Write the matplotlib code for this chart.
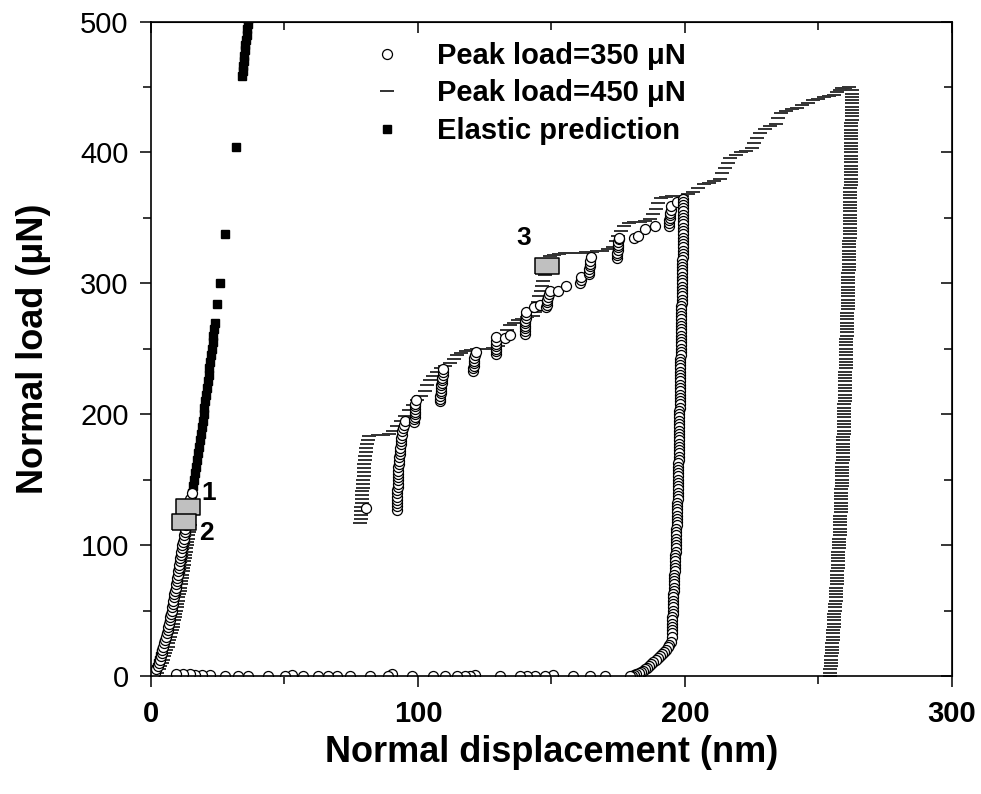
import matplotlib.pyplot as plt
from matplotlib.ticker import MultipleLocator

plt.rcParams['font.family'] = 'Liberation Sans'

# --- Elastic prediction (black squares) ---
elastic_x = [0.0, 0.6, 0.9, 1.3, 1.7, 2.1, 2.7, 3.1, 3.5, 3.9, 4.2, 4.9, 5.6, 6.2, 6.7,
             7.3, 7.8, 8.3, 8.8, 9.3, 9.8, 10.2, 10.7, 11.1, 11.6, 12.0, 12.4, 12.8,
             13.2, 13.6, 14.0, 14.4, 14.8, 15.1, 15.5, 15.9, 16.3, 16.6, 17.0, 17.3,
             17.7, 18.0, 18.4, 18.7, 19.0, 19.4, 19.7, 20.0, 20.3, 20.7, 21.0, 21.3,
             21.6, 21.9, 22.2, 22.5, 22.8, 23.1, 23.4, 23.7, 24.0,
             24.8, 25.8, 27.9, 31.7,
             34.2, 34.4, 34.6, 34.8, 35.0, 35.2, 35.4, 35.6, 35.8, 36.0, 36.2, 36.4]
elastic_y = [0, 1, 2, 3.5, 5, 7, 10, 12.5, 15, 17.5, 20, 25, 30, 35, 40,
             45, 50, 55, 60, 65, 70, 75, 80, 85, 90, 95, 100, 105,
             110, 115, 120, 125, 130, 135, 140, 145, 150, 155, 160, 165,
             170, 175, 180, 185, 190, 195, 200, 205, 210, 215, 220, 225,
             230, 235, 240, 245, 250, 255, 260, 265, 270,
             284.5, 300, 338, 404,
             458, 462, 466, 470, 474, 478, 482, 486, 490, 494, 498, 502]

# --- Peak load = 450 uN (dashes) ---
p450_load_x = [0.6, 2.1, 2.9, 3.5, 4.1, 4.6, 5.0, 5.4, 5.8, 6.2,
               6.5, 6.9, 7.2, 7.5, 7.8, 8.1, 8.4, 8.6, 8.9, 9.1,
               9.4, 9.6, 9.9, 10.1, 10.3, 10.5, 10.7, 10.9, 11.1, 11.3,
               11.5, 11.7, 11.9, 12.1, 12.3, 12.5, 12.7, 12.9, 13.1, 13.3,
               13.4, 13.6, 13.8, 14.0, 14.1, 14.3, 14.5]
p450_load_y = [0, 2.5, 5, 7.5, 10, 12.5, 15, 17.5, 20, 22.5,
               25, 27.5, 30, 32.5, 35, 37.5, 40, 42.5, 45, 47.5,
               50, 52.5, 55, 57.5, 60, 62.5, 65, 67.5, 70, 72.5,
               75, 77.5, 80, 82.5, 85, 87.5, 90, 92.5, 95, 97.5,
               100, 102.5, 105, 107.5, 110, 112.5, 115]
p450_pop_x = [78.4, 78.5, 78.6, 78.7, 78.8, 78.9, 79.0, 79.1, 79.2, 79.3, 79.4, 79.5,
              79.6, 79.7, 79.8, 79.9, 80.0, 80.2, 80.4, 80.6, 80.9, 81.3, 81.8]
p450_pop_y = [117, 120, 123, 126, 129, 132, 135, 138, 141, 144, 147, 150,
              153, 156, 159, 162, 165, 168, 171, 174, 177, 180, 183]
p450_step_x = [85, 87, 89, 90.5, 92, 93.5, 95, 96.5, 98, 99.5, 101, 102.5, 103.5, 104.5,
               105.5, 107, 108.5, 110, 112, 113.5, 114.5, 116, 118, 120, 122, 124, 126,
               128, 130, 131.5, 132.5, 133.5, 134.5, 136, 137.5, 139, 141, 143, 144,
               144.5, 145, 145.5, 146, 146.5, 147, 147.5, 148, 148.5, 149, 149.5, 151,
               153, 155, 157, 159, 161, 163, 165, 167, 169, 171, 173, 174, 175, 176,
               177, 179, 181, 183, 185, 187, 188, 189, 190, 191, 193, 195, 197, 199,
               201, 203, 205, 207, 209, 211, 213, 214, 215, 216, 217, 219, 221, 223,
               225, 226, 227, 228, 230, 232, 234, 235, 236, 238, 240, 242, 244, 246,
               248, 250, 252, 254, 256, 257, 258, 259, 260, 261.5]
p450_step_y = [184, 184.5, 185, 187, 191, 195, 199, 203, 207, 211, 214, 218, 222, 226,
               229, 232, 235, 237, 239, 242, 245, 247, 248, 249, 249.5, 250, 250,
               250.5, 252, 256, 260, 264, 268, 270, 272, 273, 274, 275, 278,
               282, 286, 290, 294, 298, 302, 306, 310, 314, 318, 321, 322,
               322.5, 323, 323, 323.5, 323.5, 324, 324, 324.5, 325, 326, 328, 332, 336, 340,
               344, 346, 346.5, 347, 347.5, 349, 353, 357, 361, 365, 366, 366.5, 367, 367,
               368, 370, 373, 376, 377, 378, 380, 384, 388, 392, 396, 398, 400, 401,
               403, 407, 411, 415, 418, 420, 422, 426, 430, 432, 433, 434, 436, 438,
               440, 441, 442, 443, 444, 446, 448, 449, 449.5, 450]
p450_unl_x = [262.7, 262.6, 262.6, 262.5, 262.5, 262.5, 262.4, 262.4, 262.4, 262.4,
              262.3, 262.3, 262.3, 262.3, 262.2, 262.2, 262.2, 262.2, 262.1, 262.1,
              262.1, 262.1, 262.1, 262.1, 262.0, 262.0, 262.0, 262.0, 262.0, 262.0,
              261.9, 261.9, 261.9, 261.9, 261.9, 261.9, 261.9, 261.9, 261.9, 261.9,
              261.8, 261.8, 261.7, 261.7, 261.7, 261.7, 261.6, 261.6, 261.5, 261.5,
              261.5, 261.5, 261.4, 261.4, 261.3, 261.3, 261.2, 261.2, 261.2, 261.2,
              261.1, 261.1, 261.0, 261.0, 261.0, 261.0, 260.9, 260.9, 260.8, 260.8,
              260.8, 260.8, 260.7, 260.7, 260.6, 260.6, 260.5, 260.5, 260.4, 260.4,
              260.4, 260.4, 260.3, 260.3, 260.2, 260.2, 260.1, 260.1, 260.0, 260.0,
              259.9, 259.9, 259.9, 259.9, 259.8, 259.8, 259.7, 259.7, 259.6, 259.6,
              259.6, 259.6, 259.5, 259.5, 259.4, 259.4, 259.3, 259.3, 259.3, 259.3,
              259.2, 259.2, 259.1, 259.1, 259.0, 259.0, 258.9, 258.9, 258.8, 258.8,
              258.7, 258.7, 258.6, 258.6, 258.5, 258.5, 258.4, 258.4, 258.3, 258.3,
              258.2, 258.2, 258.1, 258.1, 258.0, 258.0, 257.9, 257.8, 257.8, 257.7,
              257.6, 257.5, 257.5, 257.4, 257.3, 257.2, 257.2, 257.1, 257.0, 256.9,
              256.9, 256.8, 256.7, 256.6, 256.5, 256.4, 256.4, 256.3, 256.2, 256.1,
              256.0, 255.9, 255.9, 255.8, 255.7, 255.6, 255.5, 255.4, 255.3, 255.2,
              255.1, 255.0, 254.9, 254.8, 254.8, 254.7, 254.6, 254.5, 254.5, 254.4]
p450_unl_y = [447.5, 445, 442.5, 440, 437.5, 435, 432.5, 430, 427.5, 425,
              422.5, 420, 417.5, 415, 412.5, 410, 407.5, 405, 402.5, 400,
              397.5, 395, 392.5, 390, 387.5, 385, 382.5, 380, 377.5, 375,
              372.5, 370, 367.5, 365, 362.5, 360, 357.5, 355, 352.5, 350,
              347.5, 345, 342.5, 340, 337.5, 335, 332.5, 330, 327.5, 325,
              322.5, 320, 317.5, 315, 312.5, 310, 307.5, 305, 302.5, 300,
              297.5, 295, 292.5, 290, 287.5, 285, 282.5, 280, 277.5, 275,
              272.5, 270, 267.5, 265, 262.5, 260, 257.5, 255, 252.5, 250,
              247.5, 245, 242.5, 240, 237.5, 235, 232.5, 230, 227.5, 225,
              222.5, 220, 217.5, 215, 212.5, 210, 207.5, 205, 202.5, 200,
              197.5, 195, 192.5, 190, 187.5, 185, 182.5, 180, 177.5, 175,
              172.5, 170, 167.5, 165, 162.5, 160, 157.5, 155, 152.5, 150,
              147.5, 145, 142.5, 140, 137.5, 135, 132.5, 130, 127.5, 125,
              122.5, 120, 117.5, 115, 112.5, 110, 107.5, 105, 102.5, 100,
              97.5, 95, 92.5, 90, 87.5, 85, 82.5, 80, 77.5, 75,
              72.5, 70, 67.5, 65, 62.5, 60, 57.5, 55, 52.5, 50,
              47.5, 45, 42.5, 40, 37.5, 35, 32.5, 30, 27.5, 25,
              22.5, 20, 17.5, 15, 12.5, 10, 7.5, 5, 2.5, 0]

# --- Peak load = 350 uN (open circles) ---
p350_load_x = [0.5, 1.4, 2.0, 2.5, 2.9, 3.3, 3.6, 4.0, 4.3, 4.65,
               5.0, 5.3, 5.6, 5.9, 6.2, 6.45, 6.7, 6.95, 7.2, 7.45,
               7.7, 7.9, 8.1, 8.35, 8.6, 8.8, 9.0, 9.2, 9.4, 9.6,
               9.8, 10.0, 10.2, 10.4, 10.6, 10.8, 11.0, 11.2, 11.4, 11.6,
               11.8, 12.0, 12.2, 12.4, 12.6, 12.8, 13.0, 13.2, 13.4, 13.6,
               13.8, 14.05, 14.3, 14.5, 14.7, 15.2, 80.7]
p350_load_y = [0, 2.5, 5, 7.5, 10, 12.5, 15, 17.5, 20, 22.5,
               25, 27.5, 30, 32.5, 35, 37.5, 40, 42.5, 45, 47.5,
               50, 52.5, 55, 57.5, 60, 62.5, 65, 67.5, 70, 72.5,
               75, 77.5, 80, 82.5, 85, 87.5, 90, 92.5, 95, 97.5,
               100, 102.5, 105, 107.5, 110, 112.5, 115, 117.5, 120, 122.5,
               125, 127.5, 130, 132.5, 135, 139.8, 128.4]
p350_step_x = [92.0, 92.05, 92.1, 92.15, 92.2, 92.25, 92.3, 92.35, 92.4, 92.45,
               92.5, 92.55, 92.6, 92.7, 92.8, 92.9, 93.0, 93.1, 93.2, 93.35,
               93.5, 93.65, 93.8, 94.0, 94.2, 94.4, 94.7, 95.0,
               98.6, 98.6, 98.7, 98.7, 98.8, 98.8, 98.9, 99.0, 99.4,
               108.2, 108.3, 108.4, 108.5, 108.6, 108.7, 108.8, 108.9, 109.0,
               109.1, 109.2, 109.3, 109.4,
               120.6, 120.7, 120.8, 120.9, 121.0, 121.1, 121.3, 121.6,
               129.1, 129.1, 129.2, 129.2, 129.3, 129.3, 129.4, 132.5, 134.4,
               140.0, 140.0, 140.1, 140.1, 140.2, 140.2, 140.3, 140.4, 140.6,
               143.3, 145.8,
               148.1, 148.2, 148.3, 148.4, 148.6, 148.9, 149.3, 152.4, 155.3,
               160.5, 161.0, 161.2, 164.0, 164.1, 164.2, 164.3, 164.5, 164.6, 164.9,
               174.5, 174.6, 174.7, 174.8, 174.9, 175.0, 175.1, 175.2, 175.3,
               181.0, 182.4, 185.2, 188.6,
               194.0, 194.1, 194.2, 194.3, 194.4, 194.5, 194.6, 194.9, 197.0, 199.2]
p350_step_y = [127, 129.5, 132, 134.5, 137, 139.5, 142, 144.5, 147, 149.5,
               152, 154.5, 157, 159.5, 162, 164.5, 167, 169.5, 172, 174.5,
               177, 179.5, 182, 184.5, 187, 189.5, 192, 194.5,
               194, 196, 198, 200, 202, 204, 206, 208, 211,
               210, 212, 214, 216, 218, 220, 222, 224, 226,
               228, 230, 232, 234.7,
               233, 235, 237, 239, 241, 243, 245, 247.4,
               246, 248, 250, 252, 254, 256, 258.8, 258, 260.6,
               261.4, 263.5, 265.5, 267.5, 269.5, 271.5, 273.5, 275.5, 278.4,
               281.7, 283.7,
               281.7, 283.5, 285.5, 287.5, 289.5, 291.5, 293.9, 294.4, 298.2,
               300, 302.5, 305, 307, 309, 311, 313, 315, 317, 319.8,
               319.3, 321.5, 323.5, 325.5, 327.5, 329.5, 331.5, 333.5, 335,
               335, 336.4, 341.5, 344,
               344, 346, 348, 350, 352, 354, 356, 359.3, 362, 364.4]
p350_unl_x = [199.3, 199.3, 199.3, 199.3, 199.3, 199.3, 199.2, 199.2, 199.2, 199.2,
              199.2, 199.2, 199.1, 199.1, 199.1, 199.1, 199.1, 199.1, 199.0, 199.0,
              199.0, 199.0, 199.0, 199.0, 198.9, 198.9, 198.9, 198.9, 198.8, 198.8,
              198.8, 198.8, 198.7, 198.7, 198.7, 198.7, 198.6, 198.6, 198.6, 198.6,
              198.5, 198.5, 198.5, 198.5, 198.4, 198.4, 198.4, 198.4, 198.3, 198.3,
              198.3, 198.3, 198.2, 198.2, 198.2, 198.2, 198.1, 198.1, 198.1, 198.1,
              198.0, 198.0, 198.0, 198.0, 197.9, 197.9, 197.9, 197.9, 197.8, 197.8,
              197.8, 197.8, 197.7, 197.7, 197.7, 197.7, 197.6, 197.6, 197.6, 197.6,
              197.5, 197.5, 197.5, 197.5, 197.4, 197.4, 197.4, 197.4, 197.3, 197.3,
              197.3, 197.3, 197.2, 197.2, 197.1, 197.1, 197.0, 197.0, 196.9, 196.9,
              196.8, 196.8, 196.7, 196.7, 196.6, 196.6, 196.5, 196.5, 196.4, 196.4,
              196.3, 196.3, 196.2, 196.1, 196.0, 196.0, 195.9, 195.9, 195.8, 195.8,
              195.7, 195.6, 195.6, 195.5, 195.5, 195.4, 195.4, 195.3, 195.3, 195.2,
              195.2, 195.1, 195.1, 195.0,
              194.6, 194.2, 193.6, 192.9, 192.2, 191.4, 190.6, 189.8, 189.0, 188.2,
              187.4, 186.6, 185.8, 185.0, 184.2, 183.4, 182.6, 181.8, 181.0, 180.2]
p350_unl_y = [362.5, 360, 357.5, 355, 352.5, 350, 347.5, 345, 342.5, 340,
              337.5, 335, 332.5, 330, 327.5, 325, 322.5, 320, 317.5, 315,
              312.5, 310, 307.5, 305, 302.5, 300, 297.5, 295, 292.5, 290,
              287.5, 285, 282.5, 280, 277.5, 275, 272.5, 270, 267.5, 265,
              262.5, 260, 257.5, 255, 252.5, 250, 247.5, 245, 242.5, 240,
              237.5, 235, 232.5, 230, 227.5, 225, 222.5, 220, 217.5, 215,
              212.5, 210, 207.5, 205, 202.5, 200, 197.5, 195, 192.5, 190,
              187.5, 185, 182.5, 180, 177.5, 175, 172.5, 170, 167.5, 165,
              162.5, 160, 157.5, 155, 152.5, 150, 147.5, 145, 142.5, 140,
              137.5, 135, 132.5, 130, 127.5, 125, 122.5, 120, 117.5, 115,
              112.5, 110, 107.5, 105, 102.5, 100, 97.5, 95, 92.5, 90,
              87.5, 85, 82.5, 80, 77.5, 75, 72.5, 70, 67.5, 65,
              62.5, 60, 57.5, 55, 52.5, 50, 47.5, 45, 42.5, 40,
              37.5, 35, 32.5, 30,
              26, 24, 22, 20, 18.5, 17, 15.5, 14, 12.5, 11,
              9.5, 8, 6.5, 5, 4, 3, 2, 1.2, 0.6, 0.2]
# retraction along the baseline
p350_ret_x = [179.3, 169.9, 164.3, 158.0, 150.6, 147.5, 143.7, 140.7, 138.2, 130.7,
              121.4, 119.5, 117.6, 114.5, 110.1, 105.7, 97.6, 90.1, 88.9, 82.0,
              74.5, 69.6, 66.4, 62.7, 57.1, 52.7, 50.2, 43.9, 36.4, 32.6, 27.7,
              22.1, 19.0, 16.5, 14.6, 12.1, 9.4]
p350_ret_y = [0, 0, 0, 0, 0.5, 0.2, 0, 0.3, 0, 0,
              0.6, 0.2, 0, 0.2, 0, 0, 0, 1.2, 0, 0,
              0, 0, 0, 0.2, 0, 0.6, 0, 0, 0.2, 0.2, 0,
              0.4, 0.6, 0.8, 1.2, 1.5, 1.8]

# marked points 1, 2, 3
mark_x = [13.7, 12.4, 148.3]
mark_y = [129.1, 117.3, 313.5]
mark_labels = ['1', '2', '3']
label_x = [21.7, 20.6, 139.6]
label_y = [139.6, 109.0, 334.9]

fig = plt.figure(figsize=(9.81, 7.94), dpi=100)
ax = fig.add_axes([0.1539, 0.1486, 0.8165, 0.8243])

h_el, = ax.plot(elastic_x, elastic_y, ls='none', marker='s', ms=6.2,
                color='black', mec='black', label='Elastic prediction')
x450 = p450_load_x + p450_pop_x + p450_step_x + p450_unl_x
y450 = p450_load_y + p450_pop_y + p450_step_y + p450_unl_y
h450, = ax.plot(x450, y450, ls='none', marker='_', ms=10.5, mew=1.4,
                color='#333333', label='Peak load=450 μN')
x350 = p350_load_x + p350_step_x + p350_unl_x + p350_ret_x
y350 = p350_load_y + p350_step_y + p350_unl_y + p350_ret_y
h350, = ax.plot(x350, y350, ls='none', marker='o', ms=7.2, mew=0.9,
                mfc='white', mec='black', label='Peak load=350 μN')

rect = [(-1.5, -1), (1.5, -1), (1.5, 1), (-1.5, 1), (-1.5, -1)]
ax.plot(mark_x, mark_y, ls='none', marker=rect, ms=17.5, mfc='#c0c0c0',
        mec='black', mew=1.1, zorder=5)
for tx, ty, t in zip(label_x, label_y, mark_labels):
    ax.text(tx, ty, t, fontsize=19, fontweight='bold', ha='center', va='center')

ax.set_xlim(0, 300)
ax.set_ylim(0, 500)
ax.xaxis.set_major_locator(MultipleLocator(100))
ax.xaxis.set_minor_locator(MultipleLocator(50))
ax.yaxis.set_major_locator(MultipleLocator(100))
ax.yaxis.set_minor_locator(MultipleLocator(50))
ax.tick_params(which='major', direction='out', length=8, width=1.1, labelsize=21)
ax.tick_params(which='minor', direction='out', length=5.5, width=1.1)
ax.tick_params(axis='x', pad=9)
ax.tick_params(axis='y', pad=8)
for lbl in ax.get_xticklabels():
    lbl.set_fontweight('bold')
for sp in ax.spines.values():
    sp.set_linewidth(1.2)

# top and right ticks point inwards
top = ax.secondary_xaxis('top')
top.xaxis.set_major_locator(MultipleLocator(100))
top.xaxis.set_minor_locator(MultipleLocator(50))
top.tick_params(which='major', direction='in', length=8, width=1.1, labeltop=False)
top.tick_params(which='minor', direction='in', length=5.5, width=1.1)
right = ax.secondary_yaxis('right')
right.yaxis.set_major_locator(MultipleLocator(100))
right.yaxis.set_minor_locator(MultipleLocator(50))
right.tick_params(which='major', direction='in', length=8, width=1.1, labelright=False)
right.tick_params(which='minor', direction='in', length=5.5, width=1.1)

ax.set_xlabel('Normal displacement (nm)', fontsize=26, fontweight='bold', labelpad=5)
ax.set_ylabel('Normal load (μN)', fontsize=26, fontweight='bold', labelpad=21)

ax.legend(handles=[h350, h450, h_el], loc='upper left',
          bbox_to_anchor=(0.3797, 0.947), bbox_transform=fig.transFigure,
          frameon=False, borderpad=0, handlelength=1.0, handletextpad=1.2,
          labelspacing=0.32, borderaxespad=0,
          prop={'size': 21, 'weight': 'bold'})

fig.savefig('out.png', dpi=100)
